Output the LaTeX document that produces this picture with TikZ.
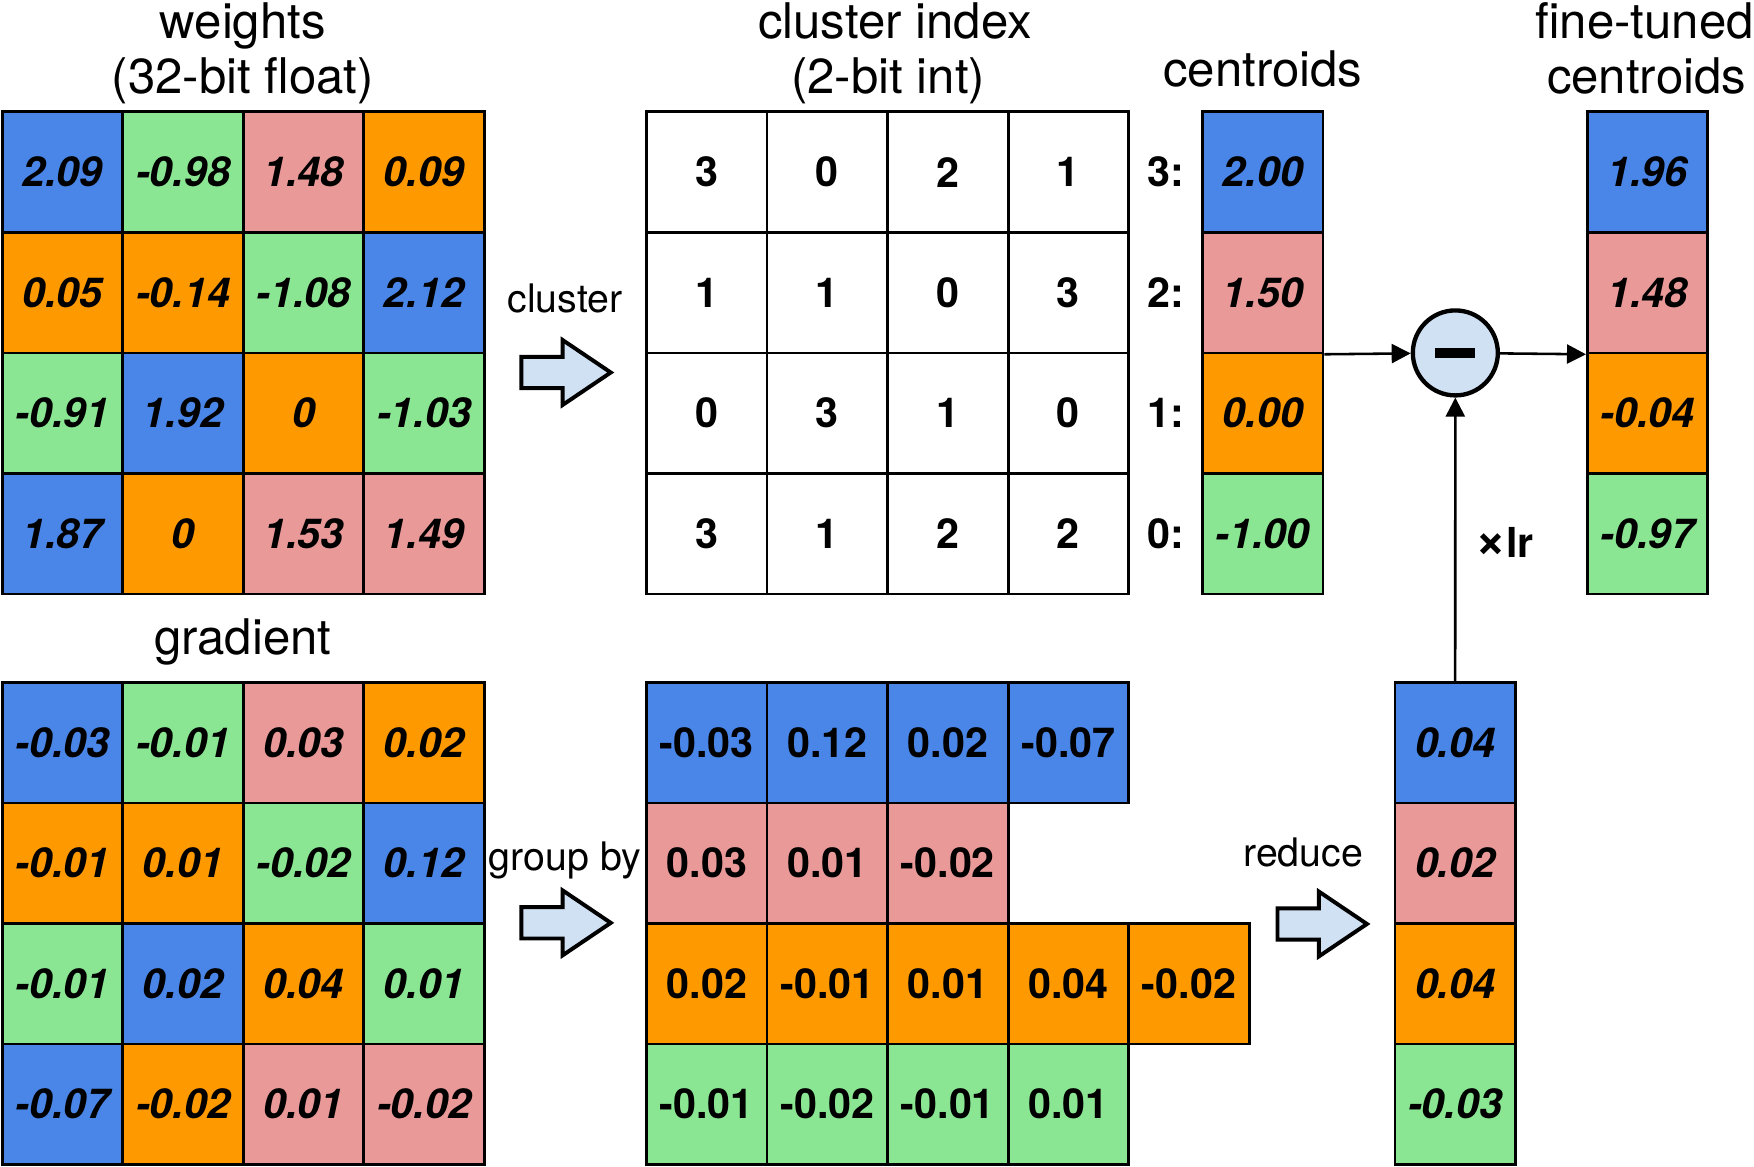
\documentclass[tikz,border=0pt]{standalone}
\usepackage{fontspec}
\setmainfont{TeX Gyre Heros}
\usetikzlibrary{arrows.meta}
\definecolor{cB}{HTML}{4A86E8}
\definecolor{cG}{HTML}{8AE692}
\definecolor{cP}{HTML}{EA9999}
\definecolor{cO}{HTML}{FF9900}
\definecolor{cArrow}{HTML}{D0E1F3}
\newcommand\cellsz{107.75}
\tikzset{
  cellbox/.style={draw=black, line width=1.4pt, minimum width=2.155cm, minimum height=2.155cm, inner sep=0pt, font=\fontsize{21}{25}\selectfont\bfseries},
  italnum/.style={font=\fontsize{21}{25}\selectfont\bfseries\itshape},
  titletext/.style={anchor=base, inner sep=0pt, font=\fontsize{25}{30}\selectfont},
  lbltext/.style={anchor=base, inner sep=0pt, font=\fontsize{20}{24}\selectfont},
  idxlabel/.style={inner sep=0pt, font=\fontsize{21}{25}\selectfont\bfseries},
  blockarr/.style={draw=black, line width=2pt, fill=cArrow, line join=miter},
  conn/.style={draw=black, line width=1.3pt, -{Triangle[length=0.34cm,width=0.34cm]}},
}
\newcommand\blockarrow[2]{\draw[blockarr] (#1,#2) ++(0,-14) -- ++(37,0) -- ++(0,-15) -- ++(43,29) -- ++(-43,29) -- ++(0,-15) -- ++(-37,0) -- cycle;}
% \squaregrid{prefix}{x0}{y0}{extra style}{list val/color}
\newcommand\squaregrid[5]{%
  \foreach \v/\c [count=\n from 0] in {#5} {
    \pgfmathtruncatemacro\rr{floor(\n/4)}
    \pgfmathtruncatemacro\kk{mod(\n,4)}
    \node[cellbox, fill=\c, #4] (#1-\rr-\kk) at ({#2+(\kk+0.5)*\cellsz},{#3+(\rr+0.5)*\cellsz}) {\v};
  }}
% \rowcells{prefix}{x0}{y}{extra style}{list val/color}
\newcommand\rowcells[5]{%
  \foreach \v/\c [count=\n from 0] in {#5} {
    \node[cellbox, fill=\c, #4] (#1-\n) at ({#2+(\n+0.5)*\cellsz},{#3}) {\v};
  }}
% \colcells{prefix}{x0}{y0}{extra style}{list val/color}
\newcommand\colcells[5]{%
  \foreach \v/\c [count=\n from 0] in {#5} {
    \node[cellbox, fill=\c, #4] (#1-\n) at ({#2+0.5*\cellsz},{#3+(\n+0.5)*\cellsz}) {\v};
  }}
\begin{document}
\begin{tikzpicture}[x=0.02cm, y=-0.02cm]
\useasboundingbox (0,0) rectangle (1568,1043);

% titles
\node[titletext] (tw1) at (217,34) {weights};
\node[titletext] (tw2) at (217,84) {(32-bit float)};
\node[titletext] (tc1) at (800,34) {cluster index};
\node[titletext] (tc2) at (794,84) {(2-bit int)};
\node[titletext] (tce) at (1129,77) {centroids};
\node[titletext] (tf1) at (1470,34) {fine-tuned};
\node[titletext] (tf2) at (1472,84) {centroids};
\node[titletext] (tg) at (217,585) {gradient};

% weights
\squaregrid{w}{2}{100}{italnum}{2.09/cB,-0.98/cG,1.48/cP,0.09/cO,
  0.05/cO,-0.14/cO,-1.08/cG,2.12/cB,
  -0.91/cG,1.92/cB,0/cO,-1.03/cG,
  1.87/cB,0/cO,1.53/cP,1.49/cP}

% cluster index
\squaregrid{ci}{578}{100}{}{3/white,0/white,2/white,1/white,
  1/white,1/white,0/white,3/white,
  0/white,3/white,1/white,0/white,
  3/white,1/white,2/white,2/white}

% centroids
\colcells{c}{1075}{100}{italnum}{2.00/cB,1.50/cP,0.00/cO,-1.00/cG}
\foreach \t [count=\n from 0] in {3:,2:,1:,0:} {
  \node[idxlabel] (cl-\n) at (1042,{100+(\n+0.5)*\cellsz}) {\t};
}

% fine-tuned centroids
\colcells{f}{1419}{100}{italnum}{1.96/cB,1.48/cP,-0.04/cO,-0.97/cG}

% gradient
\squaregrid{g}{2}{610}{italnum}{-0.03/cB,-0.01/cG,0.03/cP,0.02/cO,
  -0.01/cO,0.01/cO,-0.02/cG,0.12/cB,
  -0.01/cG,0.02/cB,0.04/cO,0.01/cG,
  -0.07/cB,-0.02/cO,0.01/cP,-0.02/cP}

% grouped
\rowcells{gb}{578}{663.9}{}{-0.03/cB,0.12/cB,0.02/cB,-0.07/cB}
\rowcells{gp}{578}{771.6}{}{0.03/cP,0.01/cP,-0.02/cP}
\rowcells{go}{578}{879.4}{}{0.02/cO,-0.01/cO,0.01/cO,0.04/cO,-0.02/cO}
\rowcells{gg}{578}{987.1}{}{-0.01/cG,-0.02/cG,-0.01/cG,0.01/cG}

% reduced
\colcells{r}{1247}{610}{italnum}{0.04/cB,0.02/cP,0.04/cO,-0.03/cG}

% labels and block arrows
\node[lbltext] (lcl) at (505,279) {cluster};
\node[lbltext] (lgb) at (505,778) {group by};
\node[lbltext] (lrd) at (1165,775) {reduce};
\blockarrow{466}{333}
\blockarrow{466}{825}
\blockarrow{1142}{826}

% minus operator
\node[circle, draw=black, line width=2.2pt, fill=cArrow, minimum size=1.52cm, inner sep=0pt] (minus) at (1301,315.5) {};
\fill[black] (minus.center) ++(-18,-4.25) rectangle ++(36,8.5);

\draw[conn] (c-1.south east) -- (minus);
\draw[conn] (minus) -- (f-1.south west);
\draw[conn] (r-0.north) -- (minus);
\node[anchor=base, inner sep=0pt, font=\fontsize{21}{25}\selectfont\bfseries] (lr) at (1345,498) {{\fontsize{27}{30}\selectfont ×}lr};
\end{tikzpicture}
\end{document}
